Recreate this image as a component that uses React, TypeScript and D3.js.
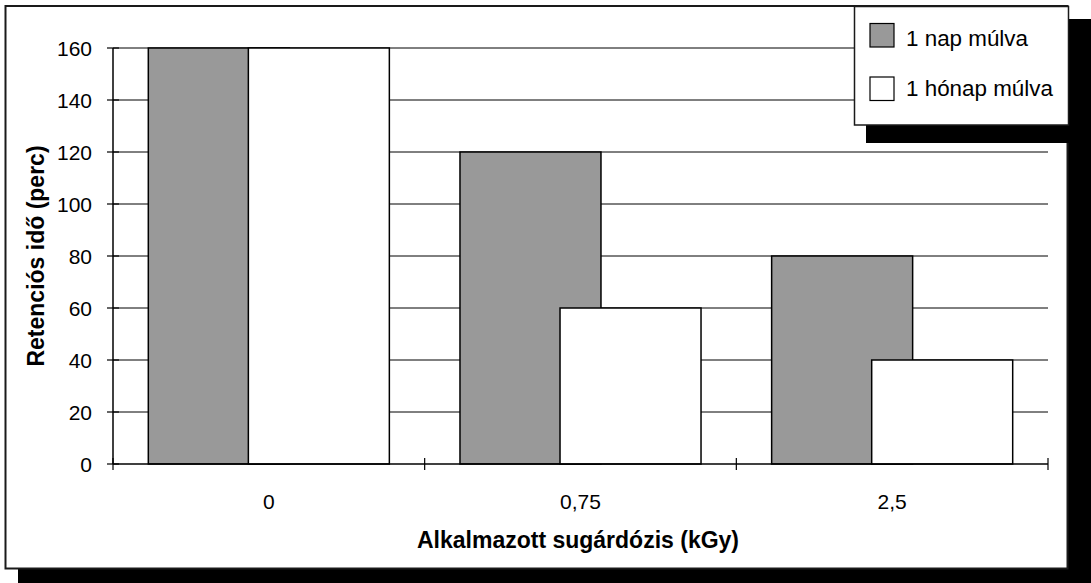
import React from "react";
import * as d3 from "d3";

const categories = ["0", "0,75", "2,5"];
const seriesNames = ["1 nap múlva", "1 hónap múlva"];
const series1 = [160, 120, 80];
const series2 = [160, 60, 40];
const yTicks = [0, 20, 40, 60, 80, 100, 120, 140, 160];
const seriesColors = ["#999999", "#ffffff"];
const xTitle = "Alkalmazott sugárdózis (kGy)";
const yTitle = "Retenciós idő (perc)";

const W = 1091;
const H = 583;
const FONT = "'Liberation Sans', Arial, Helvetica, sans-serif";

export default function App() {
  const plotL = 113, plotR = 1048, plotT = 48, plotB = 464;
  const x = d3.scaleBand<string>().domain(categories).range([plotL, plotR]).padding(0);
  const y = d3.scaleLinear().domain([0, 160]).range([plotB, plotT]);
  const bw = x.bandwidth();
  const barW = bw * 0.4524;
  const step = bw * 0.321;
  const offset0 = (bw - (barW + step)) / 2;
  const allSeries = [series1, series2];
  const boundaries = [...categories.map((c) => x(c) as number), plotR];

  return (
    <svg width={W} height={H} style={{ position: "absolute", left: 0, top: 0 }} fontFamily={FONT}>
      <rect x={0} y={0} width={W} height={H} fill="#fff" />
      {/* frame shadow */}
      <rect x={18} y={19} width={1100} height={600} fill="#000" />
      {/* frame */}
      <rect x={5.5} y={6} width={1062} height={562.5} fill="#fff" stroke="#1a1a1a" strokeWidth={2} />

      {/* gridlines */}
      {yTicks.filter((t) => t > 0).map((t) => (
        <line key={"g" + t} x1={plotL} x2={plotR} y1={y(t)} y2={y(t)} stroke="#000" strokeWidth={1} />
      ))}

      {/* bars */}
      {categories.map((c, i) => (
        <g key={c}>
          {allSeries.map((s, j) => (
            <rect
              key={j}
              x={(x(c) as number) + offset0 + j * step}
              y={y(s[i])}
              width={barW}
              height={plotB - y(s[i])}
              fill={seriesColors[j]}
              stroke="#000"
              strokeWidth={1.5}
            />
          ))}
        </g>
      ))}

      {/* axes */}
      <line x1={plotL} x2={plotL} y1={plotT} y2={plotB} stroke="#000" strokeWidth={1.5} />
      <line x1={plotL} x2={plotR} y1={plotB} y2={plotB} stroke="#000" strokeWidth={1.5} />
      {yTicks.map((t) => (
        <g key={"yt" + t}>
          <line x1={plotL - 6} x2={plotL + 6} y1={y(t)} y2={y(t)} stroke="#000" strokeWidth={1.2} />
          <text x={92} y={y(t)} dy="0.36em" textAnchor="end" fontSize={21} fill="#000">
            {t}
          </text>
        </g>
      ))}
      {boundaries.map((b, i) => (
        <line key={"xt" + i} x1={b} x2={b} y1={plotB - 6} y2={plotB + 6} stroke="#000" strokeWidth={1.2} />
      ))}
      {categories.map((c) => (
        <text key={"xl" + c} x={(x(c) as number) + bw / 2} y={509} textAnchor="middle" fontSize={21} fill="#000">
          {c}
        </text>
      ))}

      {/* axis titles */}
      <text x={578} y={548} textAnchor="middle" fontSize={23} fontWeight="bold" fill="#000">
        {xTitle}
      </text>
      <text
        transform={`translate(44, ${(plotT + plotB) / 2}) rotate(-90)`}
        textAnchor="middle"
        fontSize={23}
        fontWeight="bold"
        fill="#000"
      >
        {yTitle}
      </text>

      {/* legend */}
      <rect x={866} y={19} width={216} height={124} fill="#000" />
      <rect x={854.5} y={6.5} width={214} height={118.5} fill="#fff" stroke="#1a1a1a" strokeWidth={1.5} />
      {seriesNames.map((n, j) => (
        <g key={n}>
          <rect x={870} y={23.5 + j * 53.5} width={24} height={23.5} fill={seriesColors[j]} stroke="#000" strokeWidth={1.2} />
          <text x={906} y={46 + j * 50} fontSize={22.4} fill="#000">
            {n}
          </text>
        </g>
      ))}
    </svg>
  );
}
